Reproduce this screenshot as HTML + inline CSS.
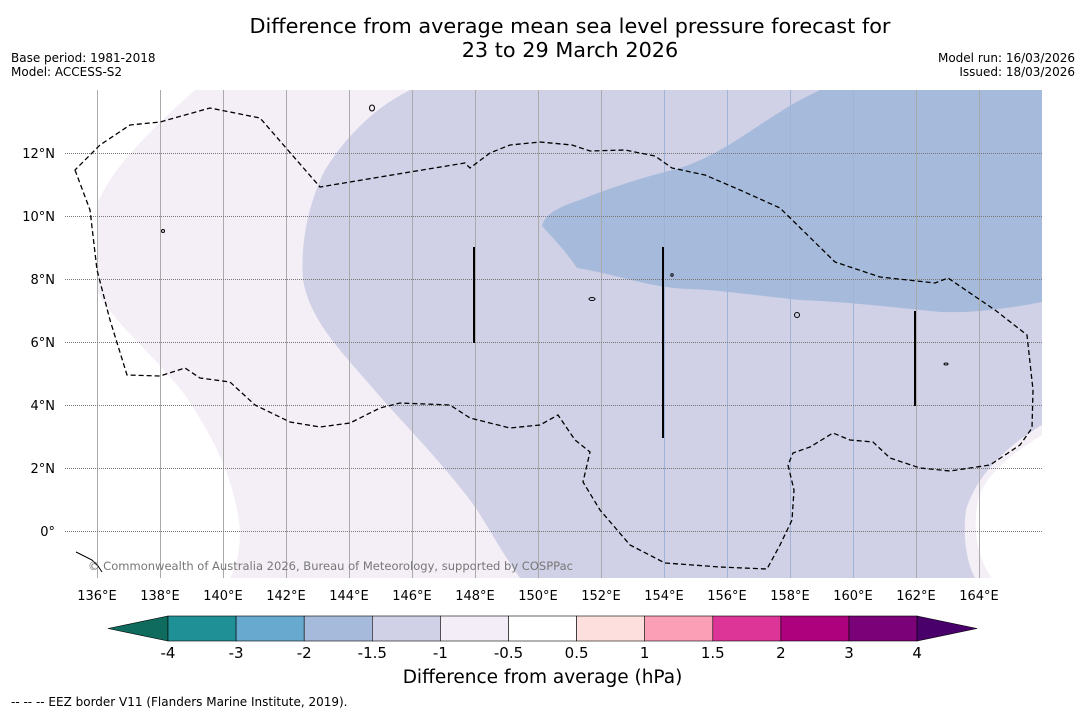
<!DOCTYPE html>
<html><head><meta charset="utf-8">
<style>
body{margin:0;width:1085px;height:713px;background:#fff;font-family:"DejaVu Sans","Liberation Sans",sans-serif;overflow:hidden;position:relative}
.t{position:absolute;white-space:nowrap}
svg text{font-family:"DejaVu Sans","Liberation Sans",sans-serif}
</style></head><body>
<div class="t" style="left:0;width:1140px;text-align:center;top:14px;font-size:20.8px;line-height:24px">Difference from average mean sea level pressure forecast for<br>23 to 29 March 2026</div>
<div class="t" style="left:11px;top:51px;font-size:12px;line-height:14px">Base period: 1981-2018<br>Model: ACCESS-S2</div>
<div class="t" style="right:10px;top:51px;font-size:12px;line-height:14px;text-align:right">Model run: 16/03/2026<br>Issued: 18/03/2026</div>
<svg id="map" width="1085" height="713" style="position:absolute;left:0;top:0">
<defs><clipPath id="c"><rect x="65" y="90" width="977" height="488"/></clipPath></defs>
<g clip-path="url(#c)">
<rect x="65" y="90" width="977" height="488" fill="#f4eef6"/>
<path fill="#fff" d="M65,90 L195,90 C150,130 110,170 97,205 L97,290 C110,320 150,350 185,395 C215,440 235,480 240,530 C240,555 235,570 230,578 L65,578 Z"/>
<path fill="#fff" d="M1042,435 C1010,455 985,475 978,500 C972,530 978,560 992,578 L1042,578 Z"/>
<path fill="#d0d1e6" d="M410,90 L1042,90 L1042,425 C1000,450 975,480 966,510 C962,540 968,565 975,578 L520,578 C500,550 485,520 470,500 C440,460 400,420 370,385 C340,350 310,320 303,280 C300,240 310,200 325,170 C350,130 380,105 410,90 Z"/>
<path fill="#a6bbdb" d="M820,90 L1042,90 L1042,302 C1000,310 970,313 940,312 C900,308 850,302 800,300 C760,296 720,290 690,289 C650,288 620,275 577,268 C565,250 550,235 542,226 C545,215 555,208 580,200 C610,188 640,178 680,168 C720,155 750,130 780,112 C795,102 810,95 820,90 Z"/>
<g id="grid"></g>
<path fill="none" stroke="#000" stroke-width="1.3" stroke-dasharray="5,3" d="M75,170 L90,210 L97,270 L110,320 L127,375 L160,376 L185,368 L200,378 L230,382 L255,405 L290,422 L320,427 L350,423 L380,408 L400,403 L450,405 L470,418 L510,428 L540,425 L558,415 L575,440 L590,452 L583,482 L600,510 L630,545 L665,563 L720,567 L767,569 L780,545 L792,520 L794,490 L788,465 L793,453 L810,447 L833,433 L850,440 L873,442 L890,458 L920,468 L950,471 L990,465 L1020,445 L1032,428 L1033,390 L1027,335 L995,310 L948,278 L935,283 L880,277 L835,262 L780,208 L740,190 L705,175 L672,168 L655,156 L625,150 L590,151 L572,145 L540,142 L510,145 L490,153 L470,168 L465,163 L410,172 L320,187 L260,118 L210,108 L160,122 L130,125 L100,145 Z"/>
<g stroke="#000" stroke-width="2">
<line x1="474" y1="247" x2="474" y2="343"/><line x1="663" y1="247" x2="663" y2="438"/><line x1="915" y1="311" x2="915" y2="406"/></g>
<g fill="none" stroke="#000" stroke-width="1">
<ellipse cx="372" cy="108" rx="2.5" ry="3"/><ellipse cx="163" cy="231" rx="1.5" ry="1.5"/><ellipse cx="592" cy="299" rx="3" ry="1.5"/><ellipse cx="797" cy="315" rx="2.5" ry="2.5"/><ellipse cx="946" cy="364" rx="2" ry="1"/><path d="M76,552 L84,556 L92,560 L98,566 L102,572"/><ellipse cx="672" cy="275" rx="1.2" ry="1.2"/></g>
</g>
<text x="88" y="570" font-size="11.5" fill="#777" textLength="485" lengthAdjust="spacingAndGlyphs">© Commonwealth of Australia 2026, Bureau of Meteorology, supported by COSPPac</text>
<g id="ticks"></g>
<g id="cbar"></g>
</svg>
<div class="t" style="left:0;width:1085px;text-align:center;top:667px;font-size:18.5px">Difference from average (hPa)</div>
<div class="t" style="left:11px;top:695px;font-size:12px">--  --  -- EEZ border V11 (Flanders Marine Institute, 2019).</div>
<script>
const lonTicks=[136,138,140,142,144,146,148,150,152,154,156,158,160,162,164];
const latTicks=[12,10,8,6,4,2,0];
const levels=["-4","-3","-2","-1.5","-1","-0.5","0.5","1","1.5","2","3","4"];
const colors=["#1f9196","#67a9cf","#a6bbdb","#d0d1e6","#f2edf6","#ffffff","#fde0dd","#fa9fb5","#dd3497","#ae017e","#7a0177"];
const NS="http://www.w3.org/2000/svg";
const xl=l=>97+(l-136)*31.5, yl=l=>531-l*31.5;
const grid=document.getElementById('grid'), ticks=document.getElementById('ticks'), cb=document.getElementById('cbar');
function mk(p,tag,a){const e=document.createElementNS(NS,tag);for(const k in a)e.setAttribute(k,a[k]);p.appendChild(e);return e;}
lonTicks.forEach(l=>{
  const gx=Math.round(xl(l))+0.5;
  const ln=mk(grid,'line',{x1:gx,x2:gx,y1:90,y2:578,stroke:(l>=154&&l<=160)?'#9fb4d6':'#aaa','stroke-width':1});
  
  
  const t=mk(ticks,'text',{x:xl(l),y:600,'font-size':13,'text-anchor':'middle'});t.textContent=l+'°E';
  
  
});
latTicks.forEach(l=>{
  const gy=Math.round(yl(l))+0.5;
  const ln=mk(grid,'line',{x1:65,x2:1042,y1:gy,y2:gy,stroke:'#777','stroke-width':1,'stroke-dasharray':'1,1'});
  
  
  const t=mk(ticks,'text',{x:55,y:yl(l)+5,'font-size':13,'text-anchor':'end'});t.textContent=l===0?'0°':l+'°N';
  
  
});
const x0=168,w=68.1,y0=616,h=25;
const lt=mk(cb,'polygon',{points:`108,${y0+h/2} ${x0},${y0} ${x0},${y0+h}`,fill:'#0e6b5e',stroke:'#000','stroke-width':0.6});


colors.forEach((c,i)=>{
  const r=mk(cb,'rect',{x:x0+i*w,y:y0,width:w,height:h,fill:c,stroke:'#000','stroke-width':0.6});
  
  
});
const xe=x0+colors.length*w;
const rt=mk(cb,'polygon',{points:`${xe},${y0} ${xe+60},${y0+h/2} ${xe},${y0+h}`,fill:'#49006a',stroke:'#000','stroke-width':0.6});


levels.forEach((v,i)=>{
  const t=mk(cb,'text',{x:x0+i*w,y:658,'font-size':15,'text-anchor':'middle'});t.textContent=v;
  
  
});
</script>
</body></html>
